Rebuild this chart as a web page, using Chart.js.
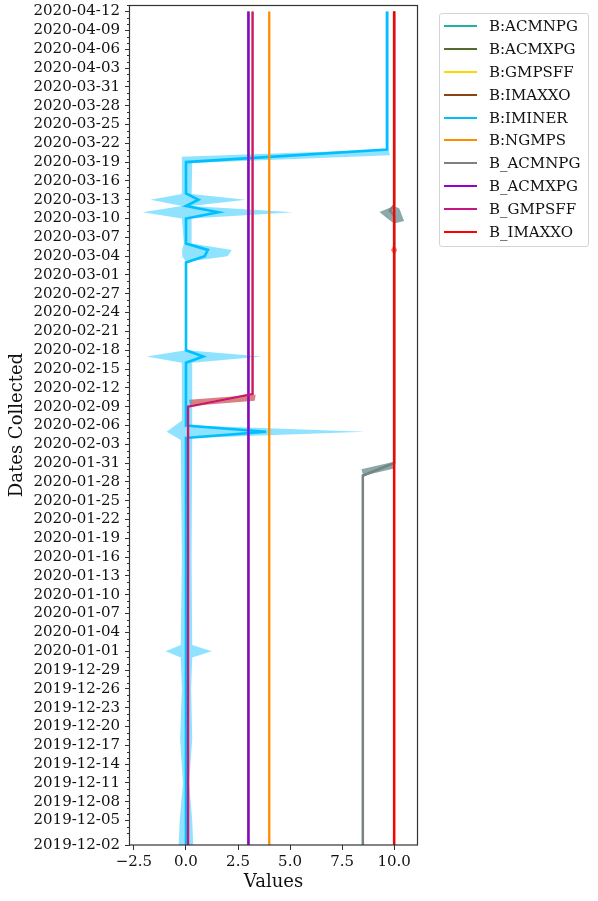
<!DOCTYPE html>
<html>
<head>
<meta charset="utf-8">
<script src="https://cdn.jsdelivr.net/npm/chart.js@4.4.0/dist/chart.umd.min.js"></script>
<style>
  html, body { margin: 0; padding: 0; background: #fff; }
  #quadro { position: relative; width: 598px; height: 901px; }
  #grafico { position: absolute; left: 0; top: 0; }
  #legenda {
    position: absolute; left: 439px; top: 13px; width: 150px; box-sizing: border-box;
    border: 1px solid #d4d4d4; border-radius: 3px; padding: 1px 0 3px 0;
    font: 15px 'DejaVu Serif', serif; color: #111;
  }
  .item { display: flex; align-items: center; height: 22.8px; white-space: nowrap; }
  .traco { width: 33px; height: 2px; margin: 0 12px 0 4px; }
</style>
</head>
<body>
<div id="quadro">
  <canvas id="grafico" width="598" height="901"></canvas>
  <div id="legenda"></div>
</div>
<script>
// Dados. Eixo Y = dias desde 2019-12-02.
const INICIO = '2019-12-02';
const BASE = -0.9;      // primeira coleta fica na borda inferior do eixo
const TOPO = 133.05;

const rotulosY = [
  '2019-12-02', '2019-12-05', '2019-12-08', '2019-12-11', '2019-12-14', '2019-12-17',
  '2019-12-20', '2019-12-23', '2019-12-26', '2019-12-29', '2020-01-01', '2020-01-04',
  '2020-01-07', '2020-01-10', '2020-01-13', '2020-01-16', '2020-01-19', '2020-01-22',
  '2020-01-25', '2020-01-28', '2020-01-31', '2020-02-03', '2020-02-06', '2020-02-09',
  '2020-02-12', '2020-02-15', '2020-02-18', '2020-02-21', '2020-02-24', '2020-02-27',
  '2020-03-01', '2020-03-04', '2020-03-07', '2020-03-10', '2020-03-13', '2020-03-16',
  '2020-03-19', '2020-03-22', '2020-03-25', '2020-03-28', '2020-03-31', '2020-04-03',
  '2020-04-06', '2020-04-09', '2020-04-12',
];
const ticksX = [-2.5, 0, 2.5, 5, 7.5, 10];

const series = ['B:ACMNPG', 'B:ACMXPG', 'B:GMPSFF', 'B:IMAXXO', 'B:IMINER', 'B:NGMPS',
  'B_ACMNPG', 'B_ACMXPG', 'B_GMPSFF', 'B_IMAXXO'];
const cores = ['#20b2aa', '#556b2f', '#ffd700', '#8b4513', '#00bfff', '#ff8c00',
  '#808080', '#9400d3', '#c71585', '#ff0000'];

// Linhas (dia, valor)
const iminerDias = [BASE, 64, 65, 66, 76, 77, 78, 92, 93, 94, 95, 99, 100, 101, 102, 103, 108, 110, 132];
const iminerValores = [0, 0, 3.85, 0, 0, 0.83, 0, 0, 0.9, 1.05, 0, 0, 1.55, 0, 0.6, 0, 0, 9.66, 9.66];
const ngmpsDias = [BASE, 132];
const ngmpsValores = [4.0, 4.0];
const acmnpgDias = [BASE, 58, 60, 99.5, 100.3, 101.1, 132];
const acmnpgValores = [8.5, 8.5, 10.0, 10.0, 9.8, 10.0, 10.0];
const acmxpgDias = [BASE, 132];
const acmxpgValores = [3.0, 3.0];
const gmpsffDias = [BASE, 69, 71, 132];
const gmpsffValores = [0.1, 0.1, 3.2, 3.2];
const imaxxoDias = [BASE, 132];
const imaxxoValores = [10.0, 10.0];

// Faixas de confiança: borda esquerda e borda direita
const iminerEsqDias = [BASE, 3, 9, 16, 24, 29, 30, 31, 45, 63.7, 65, 66.8, 76, 77, 78, 92.1, 93, 94, 95, 99, 100, 101, 102, 102.9, 108.85, 110, 132];
const iminerEsq = [-0.35, -0.3, -0.15, -0.28, -0.2, -0.25, -0.98, -0.25, -0.2, -0.25, -0.93, -0.2, -0.2, -1.89, 0, 0, -0.18, -0.18, -0.1, -0.2, -2.08, -0.2, -1.7, -0.2, -0.2, 9.6, 9.6];
const iminerDirDias = [BASE, 3, 9, 16, 24, 29, 30, 31, 45, 64, 65, 66, 76, 77, 78, 92.1, 93, 94, 95, 99, 100, 101, 102, 102.9, 107.85, 109.1, 110, 132];
const iminerDir = [0.35, 0.3, 0.15, 0.3, 0.25, 0.3, 1.24, 0.3, 0.27, 0.3, 8.6, 0.3, 0.3, 3.64, 0.05, 0.05, 2.0, 2.2, 0.27, 0.27, 5.16, 0.27, 2.87, 0.27, 0.3, 9.8, 9.74, 9.74];
const acmnpgEsqDias = [58, 59, 60.2, 98.2, 99.2, 100.05, 101];
const acmnpgEsq = [8.52, 8.43, 10.0, 10.0, 9.6, 9.3, 10.0];
const acmnpgDirDias = [58, 59.15, 60.2, 98.2, 98.6, 100.6, 101];
const acmnpgDir = [8.52, 10.0, 10.0, 10.0, 10.48, 10.25, 10.0];
const gmpsffEsqDias = [69.1, 70.1, 70.9];
const gmpsffEsq = [0.2, 0.15, 3.35];
const gmpsffDirDias = [69.1, 69.95, 70.9];
const gmpsffDir = [0.2, 3.3, 3.35];
const imaxxoFaixaDias = [93.2, 94.0, 94.8];
const imaxxoEsq = [10.0, 9.85, 10.0];
const imaxxoDir = [10.0, 10.15, 10.0];

const FONTE = "'DejaVu Serif', serif";
const COR_EIXO = '#333';
const COR_TEXTO = '#111';

const pontos = (dias, valores) => dias.map((d, i) => ({ x: valores[i], y: d }));
const contorno = (eD, eV, dD, dV) => pontos(eD, eV).concat(pontos(dD, dV).reverse());
const diaDe = (rotulo) => (Date.parse(rotulo) - Date.parse(INICIO)) / 86400000;

// Séries "B:" ficam exatamente sob as "B_" correspondentes
const linhas = [
  [0, acmnpgDias, acmnpgValores], [1, acmxpgDias, acmxpgValores],
  [2, gmpsffDias, gmpsffValores], [3, imaxxoDias, imaxxoValores],
  [4, iminerDias, iminerValores], [5, ngmpsDias, ngmpsValores],
  [6, acmnpgDias, acmnpgValores], [7, acmxpgDias, acmxpgValores],
  [8, gmpsffDias, gmpsffValores], [9, imaxxoDias, imaxxoValores],
];
const faixas = [
  [contorno(iminerEsqDias, iminerEsq, iminerDirDias, iminerDir), 'rgba(0,191,255,0.44)'],
  [contorno(acmnpgEsqDias, acmnpgEsq, acmnpgDirDias, acmnpgDir), 'rgba(46,97,97,0.55)'],
  [contorno(gmpsffEsqDias, gmpsffEsq, gmpsffDirDias, gmpsffDir), 'rgba(186,24,24,0.55)'],
  [contorno(imaxxoFaixaDias, imaxxoEsq, imaxxoFaixaDias, imaxxoDir), 'rgba(255,0,0,0.6)'],
];

const datasets = [];
faixas.forEach(([poligono, cor]) => datasets.push({
  data: poligono, borderWidth: 0, borderColor: 'transparent',
  backgroundColor: cor, fill: 'shape', pointRadius: 0, order: 100,
}));
linhas.forEach(([k, dias, valores]) => datasets.push({
  label: series[k], data: pontos(dias, valores), borderColor: cores[k],
  borderWidth: k === 4 ? 2.6 : 2.3, fill: false, pointRadius: 0, order: 50 - k,
}));

// Moldura completa e marcas menores (uma por dia) no eixo Y
const moldura = {
  id: 'moldura',
  afterDraw(chart) {
    const { ctx, chartArea: a, scales: { y } } = chart;
    ctx.save();
    ctx.strokeStyle = COR_EIXO;
    ctx.lineWidth = 1;
    ctx.beginPath();
    for (let d = Math.ceil(y.min); d <= y.max; d++) {
      if (d % 3 === 0) continue;
      const py = Math.round(y.getPixelForValue(d)) + 0.5;
      ctx.moveTo(a.left - 3, py);
      ctx.lineTo(a.left, py);
    }
    ctx.stroke();
    ctx.lineWidth = 1.2;
    ctx.strokeRect(Math.round(a.left) - 0.5, Math.round(a.top) + 0.5,
      Math.round(a.right - a.left) + 1, Math.round(a.bottom - a.top) - 0.5);
    ctx.restore();
  },
};

new Chart(document.getElementById('grafico'), {
  type: 'line',
  data: { datasets },
  options: {
    indexAxis: 'y',
    responsive: false,
    animation: false,
    events: [],
    layout: { padding: { top: 5, right: 181, bottom: 0, left: 0 } },
    plugins: {
      legend: { display: false },
      tooltip: { enabled: false },
      filler: { drawTime: 'beforeDatasetsDraw' },
    },
    scales: {
      x: {
        type: 'linear', min: -2.69, max: 11.1,
        afterBuildTicks: (s) => { s.ticks = ticksX.map((v) => ({ value: v })); },
        afterFit: (s) => { s.height = 56; s.paddingLeft = 0; s.paddingRight = 0; },
        ticks: {
          autoSkip: false, maxRotation: 0, padding: 3, color: COR_TEXTO,
          font: { family: FONTE, size: 15 },
          callback: (v) => v.toFixed(1).replace('-', '\u2212'),
        },
        grid: { drawOnChartArea: false, tickLength: 5, color: COR_EIXO },
        border: { display: false },
        title: {
          display: true, text: 'Values', color: COR_TEXTO,
          font: { family: FONTE, size: 18 }, padding: { top: 0, bottom: 8 },
        },
      },
      y: {
        type: 'linear', min: BASE, max: TOPO,
        afterBuildTicks: (s) => {
          // no original o primeiro rótulo fica na borda inferior
          s.ticks = rotulosY.map((r) => ({ value: diaDe(r) === 0 ? s.min : diaDe(r) }));
        },
        afterFit: (s) => { s.width = 130; s.paddingTop = 0; s.paddingBottom = 0; },
        ticks: {
          autoSkip: false, padding: 5, color: COR_TEXTO,
          font: { family: FONTE, size: 15 },
          callback: (v, i) => rotulosY[i],
        },
        grid: { drawOnChartArea: false, tickLength: 5, color: COR_EIXO },
        border: { display: false },
        title: {
          display: true, text: 'Dates Collected', color: COR_TEXTO,
          font: { family: FONTE, size: 18 }, padding: { top: 7, bottom: 0 },
        },
      },
    },
  },
  plugins: [moldura],
});

// Legenda em HTML (fica fora da área do gráfico, à direita)
document.getElementById('legenda').innerHTML = series.map((nome, k) =>
  `<div class="item"><span class="traco" style="background:${cores[k]}"></span>${nome}</div>`
).join('');
</script>
</body>
</html>
